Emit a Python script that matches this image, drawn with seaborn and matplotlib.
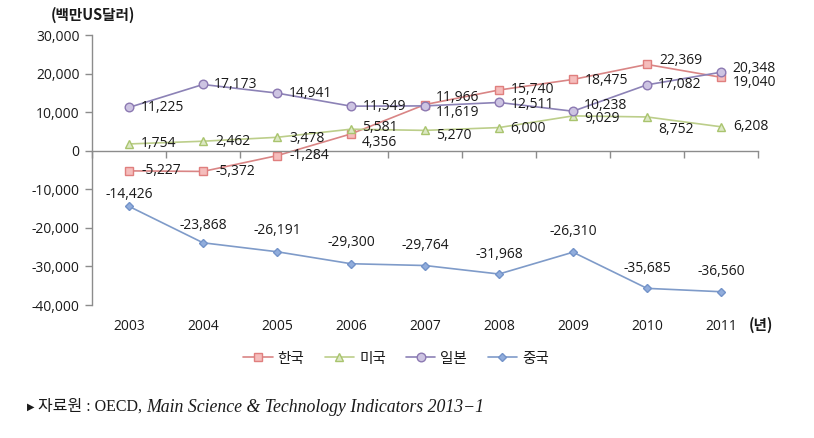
import numpy as np
import pandas as pd
import matplotlib
matplotlib.use("Agg")
import matplotlib.pyplot as plt
import seaborn as sns

years = ["2003", "2004", "2005", "2006", "2007", "2008", "2009", "2010", "2011"]
korea = [-5227, -5372, -1284, 4356, 11966, 15740, 18475, 22369, 19040]
usa = [1754, 2462, 3478, 5581, 5270, 6000, 9029, 8752, 6208]
japan = [11225, 17173, 14941, 11549, 11619, 12511, 10238, 17082, 20348]
china = [-14426, -23868, -26191, -29300, -29764, -31968, -26310, -35685, -36560]
series_names = ["한국", "미국", "일본", "중국"]
y_ticks = [-40000, -30000, -20000, -10000, 0, 10000, 20000, 30000]

sns.set_style("white")
plt.rcParams["font.family"] = ["Open Sans", "Noto Sans CJK KR", "DejaVu Sans"]

W, H = 814, 438
fig = plt.figure(figsize=(W / 100, H / 100), dpi=100)
ax = fig.add_axes([92 / W, 1 - 305 / H, (758 - 92) / W, (305 - 35) / H])

x = np.arange(len(years))

styles = {
    "한국": dict(marker="s", color="#D98585", mfc="#F5BDBC", mec="#E07F7E", ms=5.5),
    "미국": dict(marker="^", color="#BCCE8A", mfc="#DCE8C4", mec="#A9C46E", ms=5.8),
    "일본": dict(marker="o", color="#8C82B6", mfc="#CDC4E2", mec="#8C79B2", ms=6.2),
    "중국": dict(marker="D", color="#7F9BC9", mfc="#91ADDC", mec="#7393C9", ms=4.3),
}
values = {"한국": korea, "미국": usa, "일본": japan, "중국": china}

# label offsets in pixels (dx, dy) relative to each point
offsets = {
    "한국": [(12, 0), (12, 0), (12, 0), (11, -9), (11, 7), (12, 1), (12, -1), (12, 4), (12, -5)],
    "미국": [(12, 0), (12, 0), (12, -1), (11, 2), (11, -5), (11, -1), (11, -3), (11, -13), (12, 0)],
    "일본": [(12, 0), (11, 0), (12, 0), (12, 0), (11, -7), (12, -2), (11, 6), (11, 0), (11, 4)],
    "중국": [(0, 12), (0, 17), (0, 21), (0, 21), (0, 20), (0, 20), (0, 21), (0, 20), (0, 20)],
}

for name in series_names:
    st = styles[name]
    df = pd.DataFrame({"x": x, "y": values[name]})
    sns.lineplot(data=df, x="x", y="y", ax=ax, color=st["color"], linewidth=1.2,
                 marker=st["marker"], markersize=st["ms"], markerfacecolor=st["mfc"],
                 markeredgecolor=st["mec"], markeredgewidth=1.0, label=name)
    for xi, yi, (dx, dy) in zip(x, values[name], offsets[name]):
        ha = "center" if name == "중국" else "left"
        ax.annotate(f"{yi:,}", (xi, yi), xytext=(dx, dy), textcoords="offset pixels",
                    ha=ha, va="center", fontsize=10, color="#1a1a1a")

ax.set_xlim(-0.5, len(years) - 0.5)
ax.set_ylim(-40000, 30000)
ax.set_xlabel("")
ax.set_ylabel("")

ax.set_yticks(y_ticks)
ax.set_yticklabels([f"{v:,}" for v in y_ticks])
ax.tick_params(axis="y", length=5, width=1, color="#8c8c8c", direction="out",
               labelsize=10, labelcolor="#1a1a1a", pad=4, left=True)

for s in ["top", "right"]:
    ax.spines[s].set_visible(False)
ax.spines["left"].set_color("#8c8c8c")
ax.spines["bottom"].set_color("#8c8c8c")
ax.spines["bottom"].set_position(("data", 0))
ax.spines["left"].set_linewidth(1)
ax.spines["bottom"].set_linewidth(1)

ax.set_xticks(np.arange(-0.5, len(years), 1.0))
ax.tick_params(axis="x", length=5, width=1, color="#8c8c8c", direction="out",
               labelbottom=False, bottom=True)

sec = ax.secondary_xaxis("bottom")
sec.set_xticks(x)
sec.set_xticklabels(years)
sec.tick_params(length=0, pad=10, labelsize=10, labelcolor="#1a1a1a")
sec.spines["bottom"].set_visible(False)

ax.legend_.remove()
handles, labels = ax.get_legend_handles_labels()
fig.legend(handles, labels, loc="center", bbox_to_anchor=(396 / W, 1 - 359 / H), ncol=4,
           frameon=False, fontsize=10.5, handlelength=2.0, handletextpad=0.35,
           columnspacing=1.4, labelcolor="#1a1a1a")

fig.text(93 / W, 1 - 15 / H, "(백만US달러)", ha="center", va="center", fontsize=10.5,
         fontweight="bold", color="#1a1a1a", family=["Noto Sans CJK KR", "DejaVu Sans"])
fig.text(761 / W, 1 - 325 / H, "(년)", ha="center", va="center", fontsize=10.5,
         fontweight="bold", color="#1a1a1a", family=["Noto Sans CJK KR", "DejaVu Sans"])

# footnote
t1 = fig.text(27 / W, 1 - 407 / H, "▶", ha="left", va="center", fontsize=7,
              color="#1a1a1a", family=["DejaVu Sans"])
t2 = fig.text(38 / W, 1 - 407 / H, "자료원 : OECD, ", ha="left", va="center", fontsize=11.5,
              color="#1a1a1a", family=["Liberation Serif", "Noto Sans CJK KR"])
fig.canvas.draw()
bb = t2.get_window_extent()
fig.text(bb.x1 / W, 1 - 407 / H, "Main Science & Technology Indicators 2013−1", ha="left",
         va="center", fontsize=12.8, style="italic", color="#1a1a1a",
         family=["Liberation Serif", "DejaVu Serif"])

fig.savefig("out.png", dpi=100)
